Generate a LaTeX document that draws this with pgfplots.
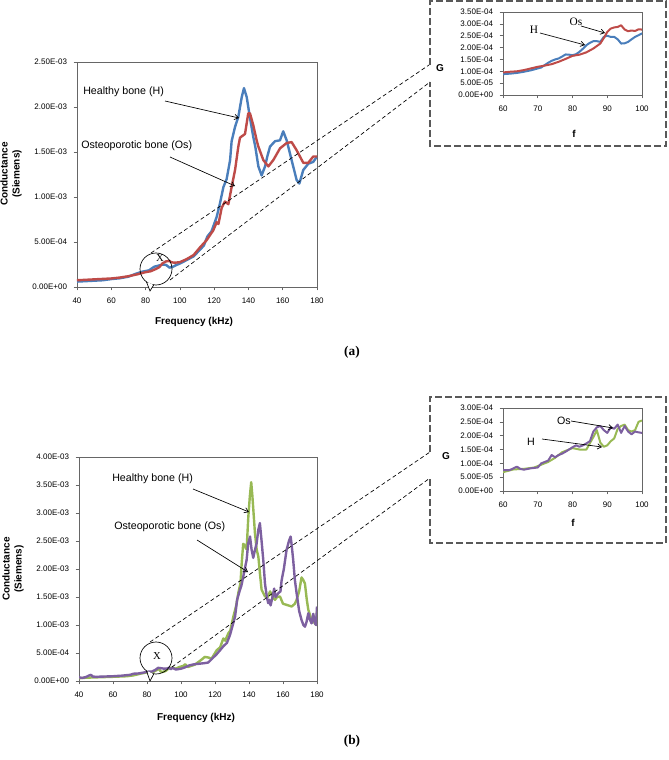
\documentclass[border=0pt]{standalone}
\usepackage{pgfplots}
\pgfplotsset{compat=1.18}
\usetikzlibrary{arrows.meta}
\usepackage{fontspec}
\setmainfont{Liberation Sans}
\newfontfamily\tnr{Liberation Serif}
\definecolor{cblue}{RGB}{74,126,187}
\definecolor{cred}{RGB}{190,75,72}
\definecolor{cgreen}{RGB}{152,185,84}
\definecolor{cpurple}{RGB}{125,96,160}
\pgfplotsset{
  excel/.style={
    scale only axis, anchor=south west,
    axis line style={black!60, line width=0.6pt},
    every tick/.style={black!60, line width=0.5pt},
    tick align=outside, tick pos=left,
    major tick length=2.5pt,
    ticklabel style={font=\fontsize{6}{7}\selectfont},
    xticklabel style={yshift=-2.5pt},
    yticklabel style={xshift=-1.5pt},
    /pgf/number format/assume math mode=true,
    enlargelimits=false,
  },
  mainline/.style={line width=1.8pt, line join=round},
  insetline/.style={line width=1.5pt, line join=round},
}
\begin{document}
\begin{tikzpicture}
% ---------------- (a) main ----------------
\begin{axis}[excel, at={(57.75pt,-215.25pt)}, width=180pt, height=168.75pt,
  xmin=40, xmax=180, xtick={40,60,...,180},
  ymin=0, ymax=2.5, ytick={0,0.5,...,2.5},
  yticklabels={0.00E+00,5.00E-04,1.00E-03,1.50E-03,2.00E-03,2.50E-03}]
\addplot[mainline, cblue] coordinates {
(40,0.06)(45,0.065)(50,0.07)(55,0.075)(60,0.088)(65,0.097)(70,0.115)(74,0.145)(78,0.17)(82,0.185)(85,0.225)(88,0.24)(90,0.25)(92,0.245)(94,0.215)(96,0.225)(98,0.245)(100,0.26)(104,0.3)(108,0.34)(112,0.42)(114,0.46)(116,0.56)(118.5,0.62)(121.5,0.78)(123.4,0.93)(125.4,1.11)(127.3,1.2)(129.3,1.41)(130.2,1.62)(132.2,1.78)(134.1,1.89)(136.1,2.11)(137.4,2.21)(139,2.11)(140.9,1.88)(142.8,1.67)(144,1.56)(145.8,1.34)(147.7,1.24)(149.7,1.34)(151,1.45)(152.6,1.56)(155.5,1.62)(158.4,1.63)(160.3,1.73)(162.3,1.63)(165.2,1.41)(168.1,1.19)(169.7,1.15)(172,1.3)(174.9,1.37)(177.8,1.39)(180,1.45)};
\addplot[mainline, cred] coordinates {
(40,0.075)(45,0.08)(50,0.085)(55,0.09)(60,0.095)(65,0.105)(70,0.12)(75,0.14)(80,0.165)(83,0.175)(86,0.2)(88,0.22)(90,0.265)(92,0.285)(94,0.29)(95,0.275)(97,0.27)(100,0.276)(104,0.31)(108,0.355)(111.75,0.44)(115.6,0.52)(119.5,0.63)(121.5,0.72)(122.5,0.70)(124.4,0.88)(126.3,0.95)(128.3,0.92)(130.2,1.11)(132.2,1.3)(134.1,1.56)(135.1,1.66)(138,1.70)(139.9,1.93)(140.9,1.93)(142.8,1.8)(144.8,1.63)(145.8,1.56)(148.7,1.41)(151.6,1.34)(154.5,1.41)(158.4,1.54)(162.3,1.60)(165.2,1.61)(168.1,1.52)(172,1.38)(174.9,1.38)(177.8,1.45)(180,1.45)};
\end{axis}
% ---------------- (a) inset ----------------
\begin{axis}[excel, at={(377.25pt,-71.25pt)}, width=104.25pt, height=62.25pt,
  xmin=60, xmax=100, xtick={60,70,...,100},
  ymin=0, ymax=3.5, ytick={0,0.5,...,3.5},
  yticklabels={0.00E+00,5.00E-05,1.00E-04,1.50E-04,2.00E-04,2.50E-04,3.00E-04,3.50E-04}]
\addplot[insetline, cblue] coordinates {
(60,0.88)(62,0.9)(64,0.93)(66,0.98)(68,1.04)(70,1.12)(71,1.16)(72,1.26)(73,1.36)(74,1.44)(75,1.5)(76,1.54)(77,1.62)(78,1.71)(79,1.70)(80,1.68)(81,1.72)(82,1.82)(83,1.95)(84,2.1)(85,2.2)(86,2.27)(87,2.27)(88,2.24)(89,2.45)(90,2.5)(91,2.45)(92,2.45)(93,2.35)(94,2.17)(95,2.18)(96,2.24)(97,2.35)(98,2.45)(99,2.52)(100,2.6)};
\addplot[insetline, cred] coordinates {
(60,0.95)(62,0.98)(64,1.0)(66,1.05)(68,1.12)(70,1.19)(72,1.24)(74,1.3)(76,1.4)(78,1.52)(80,1.65)(82,1.7)(84,1.8)(86,1.96)(88,2.17)(89,2.4)(90,2.66)(91,2.8)(92,2.85)(93,2.87)(94,2.94)(95,2.76)(96,2.69)(97,2.72)(98,2.7)(99,2.77)(100,2.76)};
\end{axis}
% ---------------- (b) main ----------------
\begin{axis}[excel, at={(59.25pt,-510.75pt)}, width=178.5pt, height=168pt,
  xmin=40, xmax=180, xtick={40,60,...,180},
  ymin=0, ymax=4, ytick={0,0.5,...,4},
  yticklabels={0.00E+00,5.00E-04,1.00E-03,1.50E-03,2.00E-03,2.50E-03,3.00E-03,3.50E-03,4.00E-03}]
\addplot[mainline, cgreen] coordinates {
(40,0.05)(45,0.06)(50,0.065)(55,0.07)(60,0.075)(64,0.08)(68,0.085)(72,0.1)(76,0.13)(80,0.155)(83,0.15)(86,0.2)(87,0.22)(88,0.17)(89,0.16)(91,0.18)(93,0.23)(95,0.24)(97,0.22)(99,0.25)(101.4,0.27)(102.5,0.3)(104,0.25)(106,0.27)(108,0.29)(111.2,0.36)(114,0.43)(116,0.42)(118,0.4)(121,0.55)(123,0.6)(124.9,0.76)(126,0.72)(127.8,0.85)(129,0.9)(130.8,1.15)(132.5,1.35)(133.7,1.57)(135,1.75)(135.7,2.1)(136.6,2.45)(137.5,2.42)(138.6,2.35)(139.6,2.93)(140.5,3.3)(141.3,3.55)(142,3.3)(143.5,2.64)(144.5,2.35)(145.5,2.22)(146.5,1.9)(147.4,1.63)(149.4,1.51)(151,1.5)(152.4,1.6)(154,1.5)(155.3,1.45)(156.5,1.5)(158.2,1.51)(160,1.38)(162.1,1.36)(165.1,1.33)(167,1.38)(168,1.45)(169.5,1.6)(170.9,1.85)(172,1.8)(172.9,1.74)(174,1.45)(174.9,1.27)(176.8,1.09)(178,1.06)(179.5,1.0)(180,1.25)};
\addplot[mainline, cpurple] coordinates {
(40,0.065)(42,0.055)(44,0.07)(46,0.1)(47,0.11)(48,0.08)(50,0.075)(55,0.08)(60,0.085)(65,0.095)(70,0.11)(72,0.13)(75,0.135)(78,0.15)(80,0.165)(83,0.17)(85,0.2)(86.5,0.235)(88,0.23)(90,0.22)(92,0.225)(93,0.24)(94,0.21)(95,0.235)(97,0.205)(100,0.22)(102,0.24)(105,0.28)(108,0.3)(111.2,0.31)(114,0.32)(116,0.33)(119,0.42)(121,0.48)(123,0.55)(124.9,0.62)(127,0.68)(128.8,0.82)(130,0.95)(131.8,1.15)(133,1.45)(134.7,1.63)(135.5,1.7)(136.6,1.86)(137.5,2.0)(138.6,2.16)(139.5,2.45)(140.6,2.58)(141.5,2.35)(142.5,2.2)(143.2,2.3)(144.5,2.46)(145.5,2.7)(146.4,2.82)(147.4,2.5)(148.4,2.16)(149.4,1.74)(150.5,1.5)(151.3,1.39)(152,1.45)(152.7,1.35)(153.9,1.51)(154.8,1.65)(155.6,1.5)(157.3,1.57)(158.5,1.6)(159.2,1.8)(160.5,2.0)(162.1,2.34)(163.5,2.5)(164.5,2.58)(165.2,2.4)(166,2.16)(167,1.8)(168,1.57)(169.5,1.25)(170.9,1.09)(172,1.0)(172.9,0.97)(173.8,1.05)(174.9,1.21)(175.8,1.1)(176.8,1.03)(177.8,1.2)(178.8,1.03)(179.5,1.0)(180,1.33)};
\end{axis}
% ---------------- (b) inset ----------------
\begin{axis}[excel, at={(377.25pt,-368.25pt)}, width=104.25pt, height=62.25pt,
  xmin=60, xmax=100, xtick={60,70,...,100},
  ymin=0, ymax=3, ytick={0,0.5,...,3},
  yticklabels={0.00E+00,5.00E-05,1.00E-04,1.50E-04,2.00E-04,2.50E-04,3.00E-04}]
\addplot[insetline, cgreen] coordinates {
(60,0.68)(63,0.78)(66,0.8)(69,0.85)(71,0.95)(73,1.05)(75,1.2)(77,1.4)(79,1.5)(80,1.55)(82,1.5)(84,1.5)(86,1.95)(87,2.2)(88,1.75)(89,1.6)(90,1.65)(91,1.8)(92,1.9)(93,2.25)(94,2.35)(95,2.4)(96,2.2)(97,2.15)(98,2.2)(99,2.5)(100,2.55)};
\addplot[insetline, cpurple] coordinates {
(60,0.75)(62,0.76)(64,0.88)(65,0.8)(66,0.77)(68,0.82)(70,0.85)(71,1.0)(72,1.05)(73,1.1)(74,1.3)(75,1.22)(76,1.3)(77,1.35)(78,1.42)(79,1.5)(80,1.58)(81,1.65)(82,1.6)(83,1.65)(84,1.72)(85,1.8)(86,2.15)(87,2.3)(88,2.35)(89,2.2)(90,2.1)(91,2.3)(92,2.25)(93,2.4)(94,2.1)(95,2.35)(96,2.15)(97,2.05)(98,2.15)(99,2.12)(100,2.1)};
\end{axis}
% ---------------- annotations ----------------
\begin{scope}[x=0.75pt, y=-0.75pt]
\path[use as bounding box] (0,0) rectangle (668,760);
\tikzset{arr/.style={-{Straight Barb[length=3pt,width=4pt]}, line width=0.5pt, black},
         conn/.style={dash pattern=on 3pt off 2pt, line width=0.5pt, black},
         box/.style={dash pattern=on 5pt off 2.5pt, line width=0.9pt, black!65}}
% (a)
\node[font=\fontsize{8}{9}\selectfont, anchor=west, inner sep=0] at (83,92) {Healthy bone (H)};
\draw[arr] (165,101) -- (239,118);
\node[font=\fontsize{8}{9}\selectfont, anchor=west, inner sep=0] at (81,146) {Osteoporotic bone (Os)};
\draw[arr] (170,157) -- (235,186);
\node[rotate=90, align=center, font=\bfseries\fontsize{7.5}{9}\selectfont] at (11,174) {Conductance\\(Siemens)};
\node[font=\bfseries\fontsize{7.5}{9}\selectfont] at (194,322) {Frequency (kHz)};
\node[font=\tnr\bfseries\fontsize{10}{12}\selectfont] at (352,352) {(a)};
\draw[line width=0.5pt] (156,269) circle (16);
\fill[white] (147.5,282) -- (153.5,285) -- (150,290) -- cycle;
\draw[line width=0.5pt] (146.5,282) -- (150,291) -- (154,284.5);
\node[font=\tnr\fontsize{8}{9}\selectfont] at (160,258) {X};
\draw[conn] (151,253) -- (429,65);
\draw[conn] (170,280) -- (430,82);
\draw[box] (430,65) -- (430,1) -- (666,1) -- (666,146) -- (430,146) -- (430,82);
\node[font=\bfseries\fontsize{7.5}{9}\selectfont] at (440,68) {G};
\node[font=\bfseries\fontsize{7.5}{9}\selectfont] at (574,134) {f};
\node[font=\tnr\fontsize{8.5}{9}\selectfont] at (576,22) {Os};
\draw[arr] (581,26) -- (605,33);
\node[font=\tnr\fontsize{8.5}{9}\selectfont] at (534,30) {H};
\draw[arr] (540,33) -- (585,45);
% (b)
\node[font=\fontsize{8}{9}\selectfont, anchor=west, inner sep=0] at (112,479) {Healthy bone (H)};
\draw[arr] (193,489) -- (249,512);
\node[font=\fontsize{8}{9}\selectfont, anchor=west, inner sep=0] at (114,527) {Osteoporotic bone (Os)};
\draw[arr] (197,540) -- (248,572);
\node[rotate=90, align=center, font=\bfseries\fontsize{7.5}{9}\selectfont] at (13,569) {Conductance\\(Siemens)};
\node[font=\bfseries\fontsize{7.5}{9}\selectfont] at (196,718) {Frequency (kHz)};
\node[font=\tnr\bfseries\fontsize{10}{12}\selectfont] at (352,741) {(b)};
\draw[line width=0.5pt] (156,658) circle (16);
\fill[white] (147.5,671) -- (153.5,674) -- (150,679) -- cycle;
\draw[line width=0.5pt] (146.5,671) -- (150,681) -- (154,673.5);
\node[font=\tnr\fontsize{8}{9}\selectfont] at (157,656) {X};
\draw[conn] (150,642) -- (430,452);
\draw[conn] (172,667) -- (430,478);
\draw[box] (430,452) -- (430,397) -- (666,397) -- (666,543) -- (430,543) -- (430,478);
\node[font=\bfseries\fontsize{7.5}{9}\selectfont] at (446,456) {G};
\node[font=\bfseries\fontsize{7.5}{9}\selectfont] at (573,523) {f};
\node[font=\fontsize{8}{9}\selectfont] at (564,421) {Os};
\draw[arr] (571,421) -- (613,428);
\node[font=\fontsize{8}{9}\selectfont] at (531,442) {H};
\draw[arr] (542,439) -- (602,447);
\end{scope}
\end{tikzpicture}
\end{document}
